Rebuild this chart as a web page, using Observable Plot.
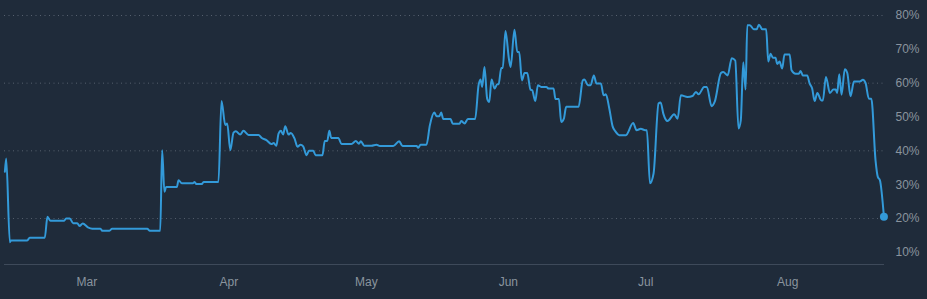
<!DOCTYPE html>
<html><head><meta charset="utf-8">
<script src="https://cdn.jsdelivr.net/npm/d3@7"></script>
<script src="https://cdn.jsdelivr.net/npm/@observablehq/plot@0.6"></script>
<style>html,body{margin:0;padding:0;background:#1f2b3a;overflow:hidden;}</style>
</head><body><div id="chart"></div>
<script>
const times = [
"2023-02-11 02","2023-02-11 09","2023-02-12 04","2023-02-12 10","2023-02-15 23","2023-02-16 12","2023-02-19 19","2023-02-20 09","2023-02-21 01","2023-02-23 23",
"2023-02-24 11","2023-02-25 06","2023-02-26 00","2023-02-26 21","2023-02-27 09","2023-02-28 02","2023-03-01 05","2023-03-02 04","2023-03-03 23","2023-03-04 08",
"2023-03-05 22","2023-03-06 12","2023-03-14 04","2023-03-14 16","2023-03-17 00","2023-03-17 10","2023-03-17 22","2023-03-18 07","2023-03-20 15","2023-03-21 00",
"2023-03-21 17","2023-03-24 03","2023-03-24 12","2023-03-24 21","2023-03-26 02","2023-03-26 11","2023-03-29 17","2023-03-30 09","2023-03-31 05","2023-03-31 15",
"2023-04-01 07","2023-04-02 00","2023-04-02 12","2023-04-03 11","2023-04-04 04","2023-04-05 07","2023-04-07 11","2023-04-08 04","2023-04-09 06","2023-04-10 06",
"2023-04-10 19","2023-04-11 08","2023-04-11 20","2023-04-12 08","2023-04-12 20","2023-04-13 07","2023-04-14 00","2023-04-14 12","2023-04-15 08","2023-04-15 23",
"2023-04-16 15","2023-04-17 05","2023-04-17 23","2023-04-18 11","2023-04-19 10","2023-04-19 22","2023-04-21 10","2023-04-21 22","2023-04-22 11","2023-04-22 22",
"2023-04-23 08","2023-04-24 21","2023-04-25 14","2023-04-27 18","2023-04-28 17","2023-04-29 09","2023-04-29 19","2023-04-30 13","2023-05-02 03","2023-05-03 05",
"2023-05-03 23","2023-05-06 21","2023-05-08 04","2023-05-08 22","2023-05-11 23","2023-05-12 08","2023-05-12 20","2023-05-14 03","2023-05-14 21","2023-05-15 20",
"2023-05-16 08","2023-05-16 22","2023-05-17 08","2023-05-17 19","2023-05-19 09","2023-05-19 21","2023-05-21 08","2023-05-21 17","2023-05-22 11","2023-05-23 04",
"2023-05-24 18","2023-05-25 12","2023-05-25 22","2023-05-26 07","2023-05-26 19","2023-05-27 09","2023-05-27 20","2023-05-28 08","2023-05-29 00","2023-05-29 14",
"2023-05-29 21","2023-05-30 11","2023-05-30 19","2023-05-31 09","2023-06-01 03","2023-06-01 12","2023-06-02 08","2023-06-02 23","2023-06-03 09","2023-06-03 23",
"2023-06-04 13","2023-06-05 03","2023-06-05 20","2023-06-06 05","2023-06-06 21","2023-06-07 11","2023-06-08 04","2023-06-09 07","2023-06-09 19","2023-06-10 21",
"2023-06-11 07","2023-06-12 01","2023-06-12 13","2023-06-13 03","2023-06-13 15","2023-06-16 08","2023-06-17 06","2023-06-17 15","2023-06-18 09","2023-06-18 23",
"2023-06-19 16","2023-06-20 06","2023-06-21 05","2023-06-21 19","2023-06-22 07","2023-06-23 01","2023-06-23 18","2023-06-24 11","2023-06-25 05","2023-06-26 16",
"2023-06-28 06","2023-06-29 00","2023-06-29 22","2023-06-30 21","2023-07-01 06","2023-07-01 22","2023-07-02 17","2023-07-03 19","2023-07-04 06","2023-07-04 20",
"2023-07-05 18","2023-07-07 05","2023-07-07 23","2023-07-08 16","2023-07-10 03","2023-07-11 05","2023-07-11 23","2023-07-12 13","2023-07-13 18","2023-07-14 08",
"2023-07-15 09","2023-07-16 02","2023-07-17 10","2023-07-17 22","2023-07-18 21","2023-07-19 19","2023-07-20 13","2023-07-21 06","2023-07-21 18","2023-07-22 07",
"2023-07-22 19","2023-07-23 04","2023-07-23 18","2023-07-24 14","2023-07-25 05","2023-07-25 17","2023-07-26 11","2023-07-27 07","2023-07-27 18","2023-07-28 06",
"2023-07-28 18","2023-07-29 08","2023-07-29 17","2023-07-30 05","2023-07-30 19","2023-07-31 07","2023-08-01 10","2023-08-01 20","2023-08-02 17","2023-08-03 10",
"2023-08-03 19","2023-08-04 07","2023-08-05 06","2023-08-05 18","2023-08-06 08","2023-08-06 21","2023-08-07 11","2023-08-08 08","2023-08-08 16","2023-08-09 08",
"2023-08-10 05","2023-08-10 23","2023-08-11 11","2023-08-11 19","2023-08-12 06","2023-08-12 18","2023-08-13 11","2023-08-14 00","2023-08-14 17","2023-08-15 11",
"2023-08-16 18","2023-08-17 10","2023-08-18 00","2023-08-18 17","2023-08-19 06","2023-08-20 04","2023-08-20 16","2023-08-21 03","2023-08-22 00"
];
const values = [
33.8,37.7,13.0,13.5,13.5,14.3,14.3,20.5,19.3,19.3,
20.0,20.0,18.6,18.6,17.8,18.5,17.4,17.0,17.0,16.4,
16.4,17.0,17.0,16.4,16.4,40.2,27.9,29.3,29.3,31.3,
30.4,30.4,30.8,30.2,30.2,30.8,30.8,54.7,47.6,48.1,
40.2,45.4,45.8,44.8,45.9,44.7,44.7,43.8,43.1,42.0,
42.3,41.5,45.1,45.9,44.8,47.3,44.8,45.3,43.6,41.2,
41.8,41.3,38.7,40.0,40.0,38.7,38.7,42.9,42.9,45.9,
43.8,43.8,42.0,42.0,42.9,42.1,42.8,41.5,41.5,41.8,
41.4,41.4,42.8,41.4,41.4,40.9,41.8,41.8,47.6,51.3,
50.2,50.2,51.3,49.4,49.4,48.0,48.0,48.8,48.1,49.4,
49.4,59.4,61.1,58.9,64.8,55.4,54.4,61.1,58.4,59.7,
59.7,64.5,64.5,75.4,67.2,64.8,75.8,69.2,69.2,60.8,
63.0,63.0,58.1,57.9,54.7,59.4,58.9,58.9,58.4,58.4,
55.3,55.3,48.5,49.5,53.0,53.0,60.8,61.1,59.4,59.4,
62.3,59.9,59.9,56.4,56.7,52.5,47.3,45.6,44.6,44.6,
48.2,46.1,46.5,46.1,46.1,30.4,33.3,54.0,54.3,51.0,
48.8,50.8,49.5,56.4,55.9,56.2,57.4,56.7,58.9,58.9,
53.2,54.6,63.0,63.3,62.3,67.4,66.7,46.6,49.0,66.2,
58.1,77.1,77.1,75.9,75.9,77.3,75.9,75.9,66.4,68.7,
67.5,67.5,65.7,66.4,64.3,68.5,68.5,63.8,62.8,62.8,
63.6,62.3,62.3,60.0,58.4,54.7,57.1,54.9,54.9,61.8,
57.1,58.1,58.1,57.1,62.6,56.6,64.1,63.0,56.1,60.5,
60.5,61.0,60.0,55.4,55.4,37.2,32.3,31.3,20.5
];
const yTicks = [10, 20, 30, 40, 50, 60, 70, 80];
const gridTicks = [20, 40, 60, 80];
const monthTicks = ["2023-03-01 00","2023-04-01 00","2023-05-01 00","2023-06-01 00","2023-07-01 00","2023-08-01 00"];
const xDomain = ["2023-02-11 00", "2023-08-22 03"];
const yDomain = [6.4, 80];

const parse = d3.utcParse("%Y-%m-%d %H");
const data = times.map((t, i) => ({date: parse(t), value: values[i]}));
const last = data[data.length - 1];
const lineColor = "#339ad9";

const chart = Plot.plot({
  width: 927, height: 299,
  marginLeft: 4, marginRight: 43, marginTop: 15, marginBottom: 35,
  style: {background: "#1f2b3a", fontFamily: "'Liberation Sans', Arial, sans-serif", fontSize: "12px", color: "#8a949e", overflow: "visible"},
  x: {type: "utc", domain: xDomain.map(parse)},
  y: {domain: yDomain},
  marks: [
    Plot.gridY(gridTicks, {stroke: "#56606e", strokeOpacity: 1, strokeDasharray: "1,3.5"}),
    Plot.ruleY([yDomain[0]], {stroke: "#3e4a5a", strokeWidth: 1}),
    Plot.axisY(yTicks, {anchor: "right", tickSize: 0, tickPadding: 11, tickFormat: d => d + "%", label: null}),
    Plot.axisX(monthTicks.map(parse), {anchor: "bottom", tickSize: 0, tickPadding: 13, tickFormat: d3.utcFormat("%b"), label: null}),
    Plot.lineY(data, {x: "date", y: "value", stroke: lineColor, strokeWidth: 2, curve: "monotone-x"}),
    Plot.dot([last], {x: "date", y: "value", r: 4, fill: lineColor, stroke: "none"})
  ]
});
document.getElementById("chart").appendChild(chart);
</script>
</body></html>
